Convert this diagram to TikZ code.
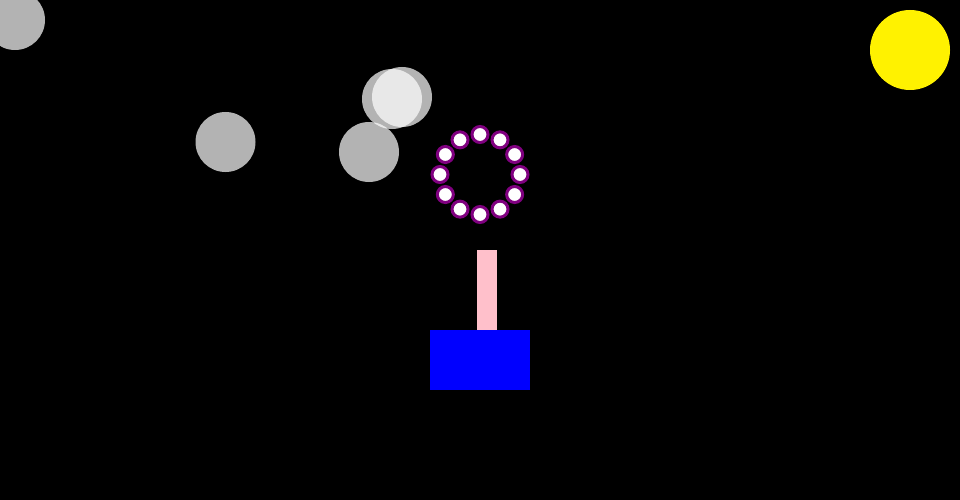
\documentclass[tikz,border=0pt]{standalone}
\definecolor{ringpurple}{HTML}{800080}
\definecolor{stickpink}{HTML}{FFC0CB}
\tikzset{
  moon/.style={fill=white,fill opacity=.7},
  bead/.style={fill=white,draw=ringpurple,line width=3pt}
}
\begin{document}
\begin{tikzpicture}[x=1pt,y=-1pt]
\fill[black](0,0) rectangle (960,500);
\useasboundingbox (0,0) rectangle (960,500);
% clouds
\fill[moon](15,20) circle (30);
\fill[moon](225.5,142) circle (30);
\fill[moon](369,152) circle (30);
\fill[moon](392,99) circle (30);
\fill[moon](402,97) circle (30);
% sun
\fill[yellow](910,50) circle (40);
% ring of beads
\begin{scope}[shift={(480,174.5)}]
\foreach \a in {0,30,...,330}
    \draw[bead](\a:40) circle (8);
\end{scope}
% stick and base
\fill[stickpink](477,250) rectangle (497,330);
\fill[blue](430,330) rectangle (530,390);
\end{tikzpicture}
\end{document}
